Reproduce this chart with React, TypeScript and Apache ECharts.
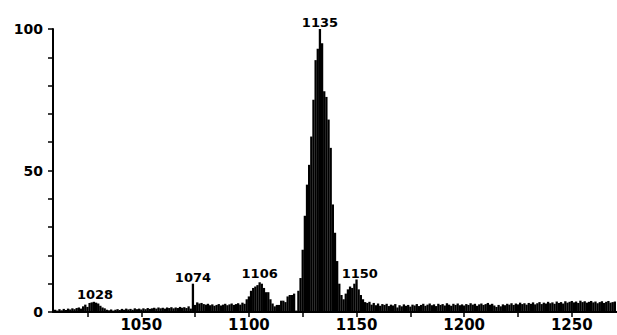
import React, { useEffect, useRef } from "react";
import * as echarts from "echarts";

const MASS_START = 1010;
// relative intensity for each integer mass from 1010 to 1270
const intensities = [
  0.8, 0.5, 1.0, 0.6, 1.1, 0.7, 1.2, 0.9, 1.3, 1.0,
  1.4, 1.6, 1.2, 2.0, 2.6, 1.8, 3.2, 3.4, 3.6, 3.3,
  3.0, 2.2, 1.6, 1.3, 0.8, 0.6, 0.9, 0.5, 0.8, 1.0,
  0.7, 1.1, 0.8, 1.2, 0.9, 1.1, 0.8, 1.3, 1.0, 1.2,
  0.9, 1.3, 1.0, 1.4, 1.1, 1.3, 1.5, 1.2, 1.6, 1.3,
  1.5, 1.2, 1.6, 1.4, 1.7, 1.3, 1.6, 1.4, 1.8, 1.5,
  1.7, 1.4, 2.0, 1.2, 10.0, 2.5, 3.4, 3.0, 3.2, 2.8,
  2.6, 2.9, 2.4, 2.7, 2.2, 2.5, 2.8, 2.3, 2.6, 2.9,
  2.4, 2.7, 3.0, 2.5, 2.8, 3.1, 2.6, 3.3, 2.9, 4.5,
  5.5, 7.5, 8.5, 9.0, 9.5, 10.5, 10.0, 8.5, 7.0, 7.0,
  4.5, 3.0, 2.0, 2.5, 2.5, 4.0, 4.0, 3.5, 5.5, 6.0,
  6.0, 6.5, 0.5, 7.5, 12, 22, 34, 45, 52, 62,
  75, 89, 93, 100, 95, 78, 76, 68, 58, 38,
  28, 18, 10, 6, 4.5, 6.5, 8, 9, 8.5, 10,
  11.5, 8, 6, 4.5, 3.5, 3.2, 3.6, 2.6, 3.2, 2.4,
  3.0, 2.2, 2.8, 2.5, 2.9, 2.1, 2.6, 2.3, 2.8, 1.6,
  2.4, 2.0, 2.7, 2.2, 2.5, 1.9, 2.6, 2.3, 2.8, 2.1,
  2.5, 2.9, 2.2, 2.6, 3.0, 2.4, 2.7, 2.1, 2.9, 2.5,
  2.8, 2.3, 3.1, 2.6, 2.2, 2.9, 2.5, 3.0, 2.4, 2.7,
  2.3, 2.8, 2.5, 3.1, 2.6, 2.9, 2.2, 2.7, 3.0, 2.5,
  2.8, 3.2, 2.6, 2.9, 2.3, 1.8, 2.5, 2.0, 2.7, 2.4,
  2.9, 2.6, 3.1, 2.5, 3.0, 2.7, 3.3, 2.8, 3.1, 2.6,
  3.2, 2.9, 3.4, 2.7, 3.1, 3.5, 2.8, 3.3, 3.0, 3.6,
  3.1, 3.4, 2.9, 3.7, 3.2, 3.5, 3.0, 3.8, 3.3, 3.6,
  3.9, 3.4, 3.7, 3.2, 4.0, 3.5, 3.8, 3.3, 3.6, 3.9,
  3.4, 3.7, 3.1, 3.5, 3.8, 3.2, 3.6, 3.9, 3.3, 3.5, 3.7,
];

const xTickValues = [1025, 1050, 1075, 1100, 1125, 1150, 1175, 1200, 1225, 1250];
const xLabelValues = [1050, 1100, 1150, 1200, 1250];
const yLabelValues = [0, 50, 100];

const peakLabelTexts = ["1028", "1074", "1106", "1135", "1150"];
const peakLabelMasses = [1028.5, 1074, 1105, 1133, 1151.5];
const peakLabelHeights = [4, 10, 11.3, 100, 11.3];

const FONT = "DejaVu Sans";

export default function App() {
  const ref = useRef<HTMLDivElement>(null);

  useEffect(() => {
    document.body.style.margin = "0";
    const chart = echarts.init(ref.current!, null, { renderer: "svg" });
    const barData = intensities.map((v, i) => [MASS_START + i, v]);
    const labelData = peakLabelTexts.map((t, i) => ({
      value: [peakLabelMasses[i], peakLabelHeights[i]],
      name: t,
    }));
    chart.setOption({
      animation: false,
      backgroundColor: "#ffffff",
      grid: { left: 53, right: 0, top: 29, bottom: 23, containLabel: false },
      xAxis: {
        type: "value",
        min: 1009,
        max: 1271,
        splitLine: { show: false },
        axisLine: { show: true, onZero: false, lineStyle: { color: "#000", width: 2 } },
        axisTick: {
          show: true,
          length: 5,
          inside: false,
          customValues: xTickValues,
          lineStyle: { color: "#000", width: 1.5 },
        },
        axisLabel: {
          show: true,
          customValues: xLabelValues,
          margin: 5,
          color: "#000",
          fontFamily: FONT,
          fontSize: 15,
          fontWeight: "bold",
          formatter: (v: number) => String(v),
        },
      },
      yAxis: {
        type: "value",
        min: 0,
        max: 100,
        interval: 10,
        splitLine: { show: false },
        axisLine: { show: true, lineStyle: { color: "#000", width: 2 } },
        axisTick: { show: true, length: 5, inside: false, lineStyle: { color: "#000", width: 1.5 } },
        axisLabel: {
          show: true,
          margin: 10,
          color: "#000",
          fontFamily: FONT,
          fontSize: 14,
          fontWeight: "bold",
          formatter: (v: number) => (yLabelValues.indexOf(v) >= 0 ? String(v) : ""),
        },
      },
      series: [
        {
          type: "bar",
          data: barData,
          barWidth: 2.3,
          itemStyle: { color: "#000" },
          silent: true,
        },
        {
          type: "scatter",
          data: labelData,
          symbolSize: 0,
          silent: true,
          itemStyle: { color: "#000", opacity: 1 },
          label: {
            show: true,
            position: "top",
            distance: 0,
            formatter: (p: any) => p.name,
            color: "#000",
            opacity: 1,
            textBorderWidth: 0,
            fontFamily: FONT,
            fontSize: 13,
            fontWeight: "bold",
          },
        },
      ],
    });
    return () => chart.dispose();
  }, []);

  return <div ref={ref} style={{ width: 617, height: 335 }} />;
}
